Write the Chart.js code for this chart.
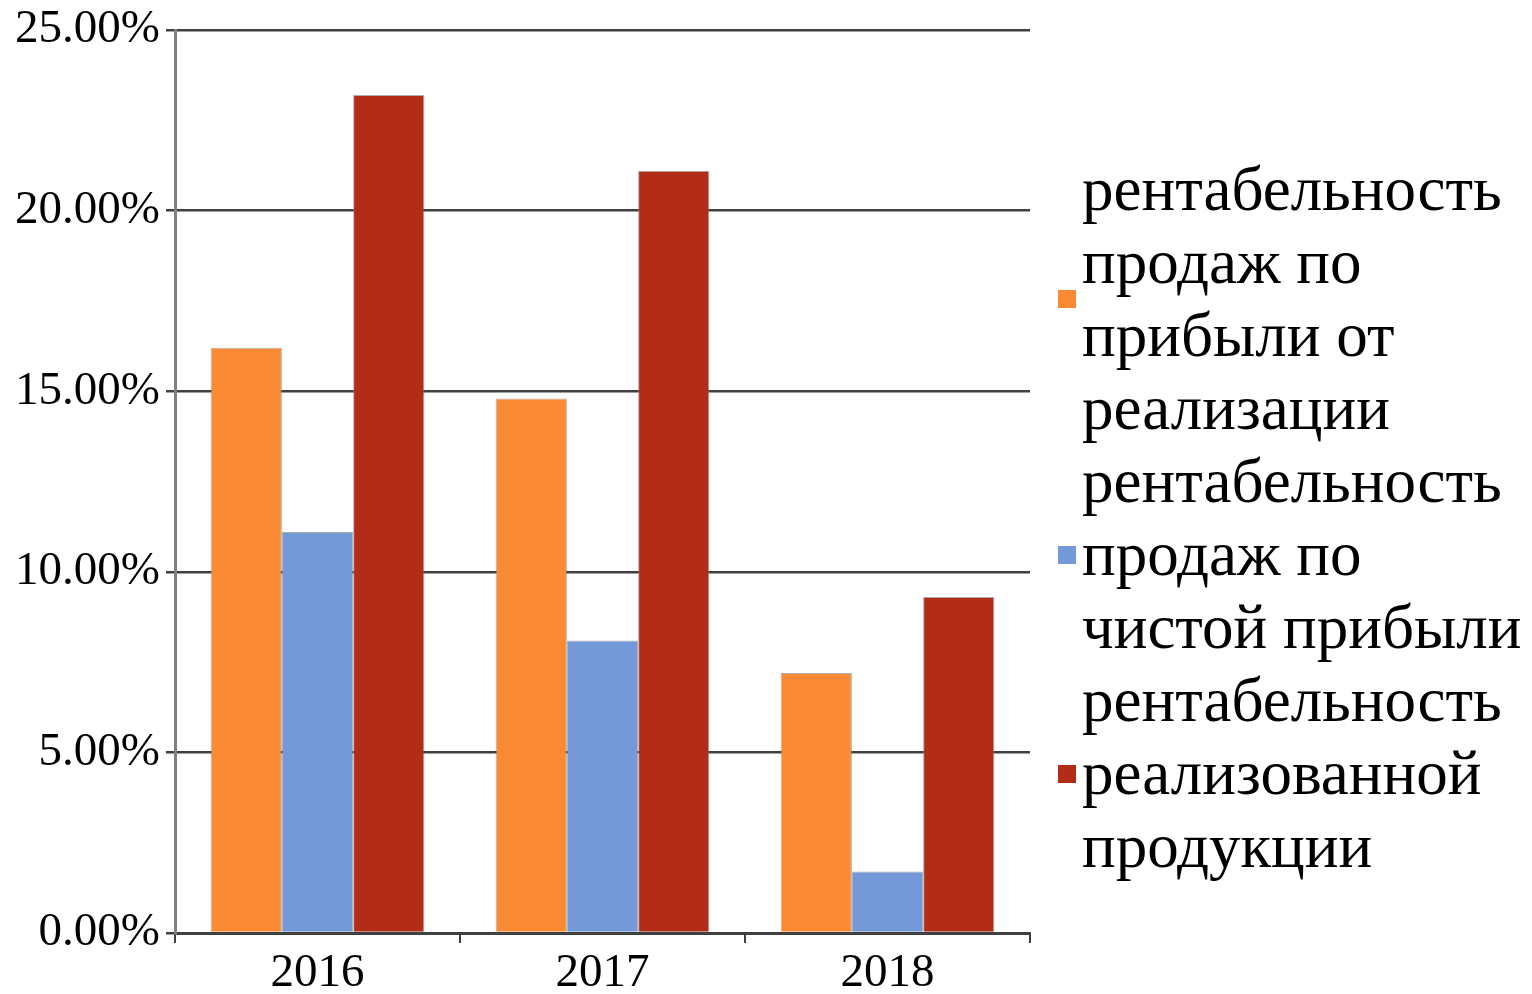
<!DOCTYPE html>
<html>
<head>
<meta charset="utf-8">
<script src="https://cdn.jsdelivr.net/npm/chart.js@4"></script>
<style>
  html, body { margin: 0; padding: 0; background: #fff; }
  #wrap { position: relative; width: 1532px; height: 994px; }
  #chartBox { position: absolute; left: 0; top: 0; width: 1045px; height: 994px; }
  #legend { position: absolute; left: 1058px; top: 153px; font-family: "Liberation Serif", "Times New Roman", serif; font-size: 63px; line-height: 73px; color: #000; }
  .item { display: flex; align-items: center; }
  .box { width: 18px; height: 18px; margin-right: 6px; flex: none; }
  .txt { white-space: pre; }
</style>
</head>
<body>
<div id="wrap">
  <div id="chartBox"><canvas id="rentChart"></canvas></div>
  <div id="legend"></div>
</div>
<script>
const years = ['2016', '2017', '2018'];

const salesProfit = [16.2, 14.8, 7.2];
const netProfit = [11.1, 8.1, 1.7];
const productProfit = [23.2, 21.1, 9.3];

const seriesNames = [
    'рентабельность\nпродаж по\nприбыли от\nреализации',
    'рентабельность\nпродаж по\nчистой прибыли',
    'рентабельность\nреализованной\nпродукции'
];

const yTicks = [0, 5, 10, 15, 20, 25];

document.addEventListener("DOMContentLoaded", function() {
    const serif = '"Liberation Serif", "Times New Roman", serif';

    const ctx = document.getElementById('rentChart').getContext('2d');
    const chart = new Chart(ctx, {
        type: 'bar',
        data: {
            labels: years,
            datasets: [{
                label: seriesNames[0],
                data: salesProfit,
                backgroundColor: '#FA8A33',
                borderColor: 'rgba(140,140,140,0.7)',
                borderWidth: 1
            }, {
                label: seriesNames[1],
                data: netProfit,
                backgroundColor: '#7399D8',
                borderColor: 'rgba(140,140,140,0.7)',
                borderWidth: 1
            }, {
                label: seriesNames[2],
                data: productProfit,
                backgroundColor: '#B22C17',
                borderColor: 'rgba(140,140,140,0.7)',
                borderWidth: 1
            }]
        },
        options: {
            responsive: true,
            maintainAspectRatio: false,
            animation: false,
            layout: { padding: { top: 30, right: 15, left: 0, bottom: 0 } },
            plugins: {
                legend: { display: false },
                tooltip: { enabled: false }
            },
            datasets: {
                bar: { categoryPercentage: 0.75, barPercentage: 1.0 }
            },
            scales: {
                x: {
                    grid: {
                        offset: true,
                        drawOnChartArea: false,
                        drawTicks: true,
                        tickLength: 10,
                        color: '#404040',
                        lineWidth: 2
                    },
                    border: { color: '#404040', width: 3 },
                    ticks: {
                        color: '#000',
                        font: { family: serif, size: 47 },
                        padding: 2
                    },
                    afterFit: function(scale) { scale.height = 61; }
                },
                y: {
                    min: 0,
                    max: 25,
                    afterBuildTicks: function(scale) {
                        scale.ticks = yTicks.map(v => ({ value: v }));
                    },
                    grid: {
                        color: '#404040',
                        lineWidth: 2.5,
                        tickLength: 9
                    },
                    border: { color: '#808080', width: 3 },
                    ticks: {
                        color: '#000',
                        font: { family: serif, size: 47, lineHeight: 1 },
                        padding: 6,
                        callback: function(v) { return v.toFixed(2) + '%'; }
                    },
                    afterFit: function(scale) { scale.width = 175; }
                }
            }
        }
    });

    const legend = document.getElementById('legend');
    chart.data.datasets.forEach(function(ds) {
        const item = document.createElement('div');
        item.className = 'item';
        const box = document.createElement('span');
        box.className = 'box';
        box.style.background = ds.backgroundColor;
        const txt = document.createElement('span');
        txt.className = 'txt';
        txt.textContent = ds.label;
        item.appendChild(box);
        item.appendChild(txt);
        legend.appendChild(item);
    });
});
</script>
</body>
</html>
